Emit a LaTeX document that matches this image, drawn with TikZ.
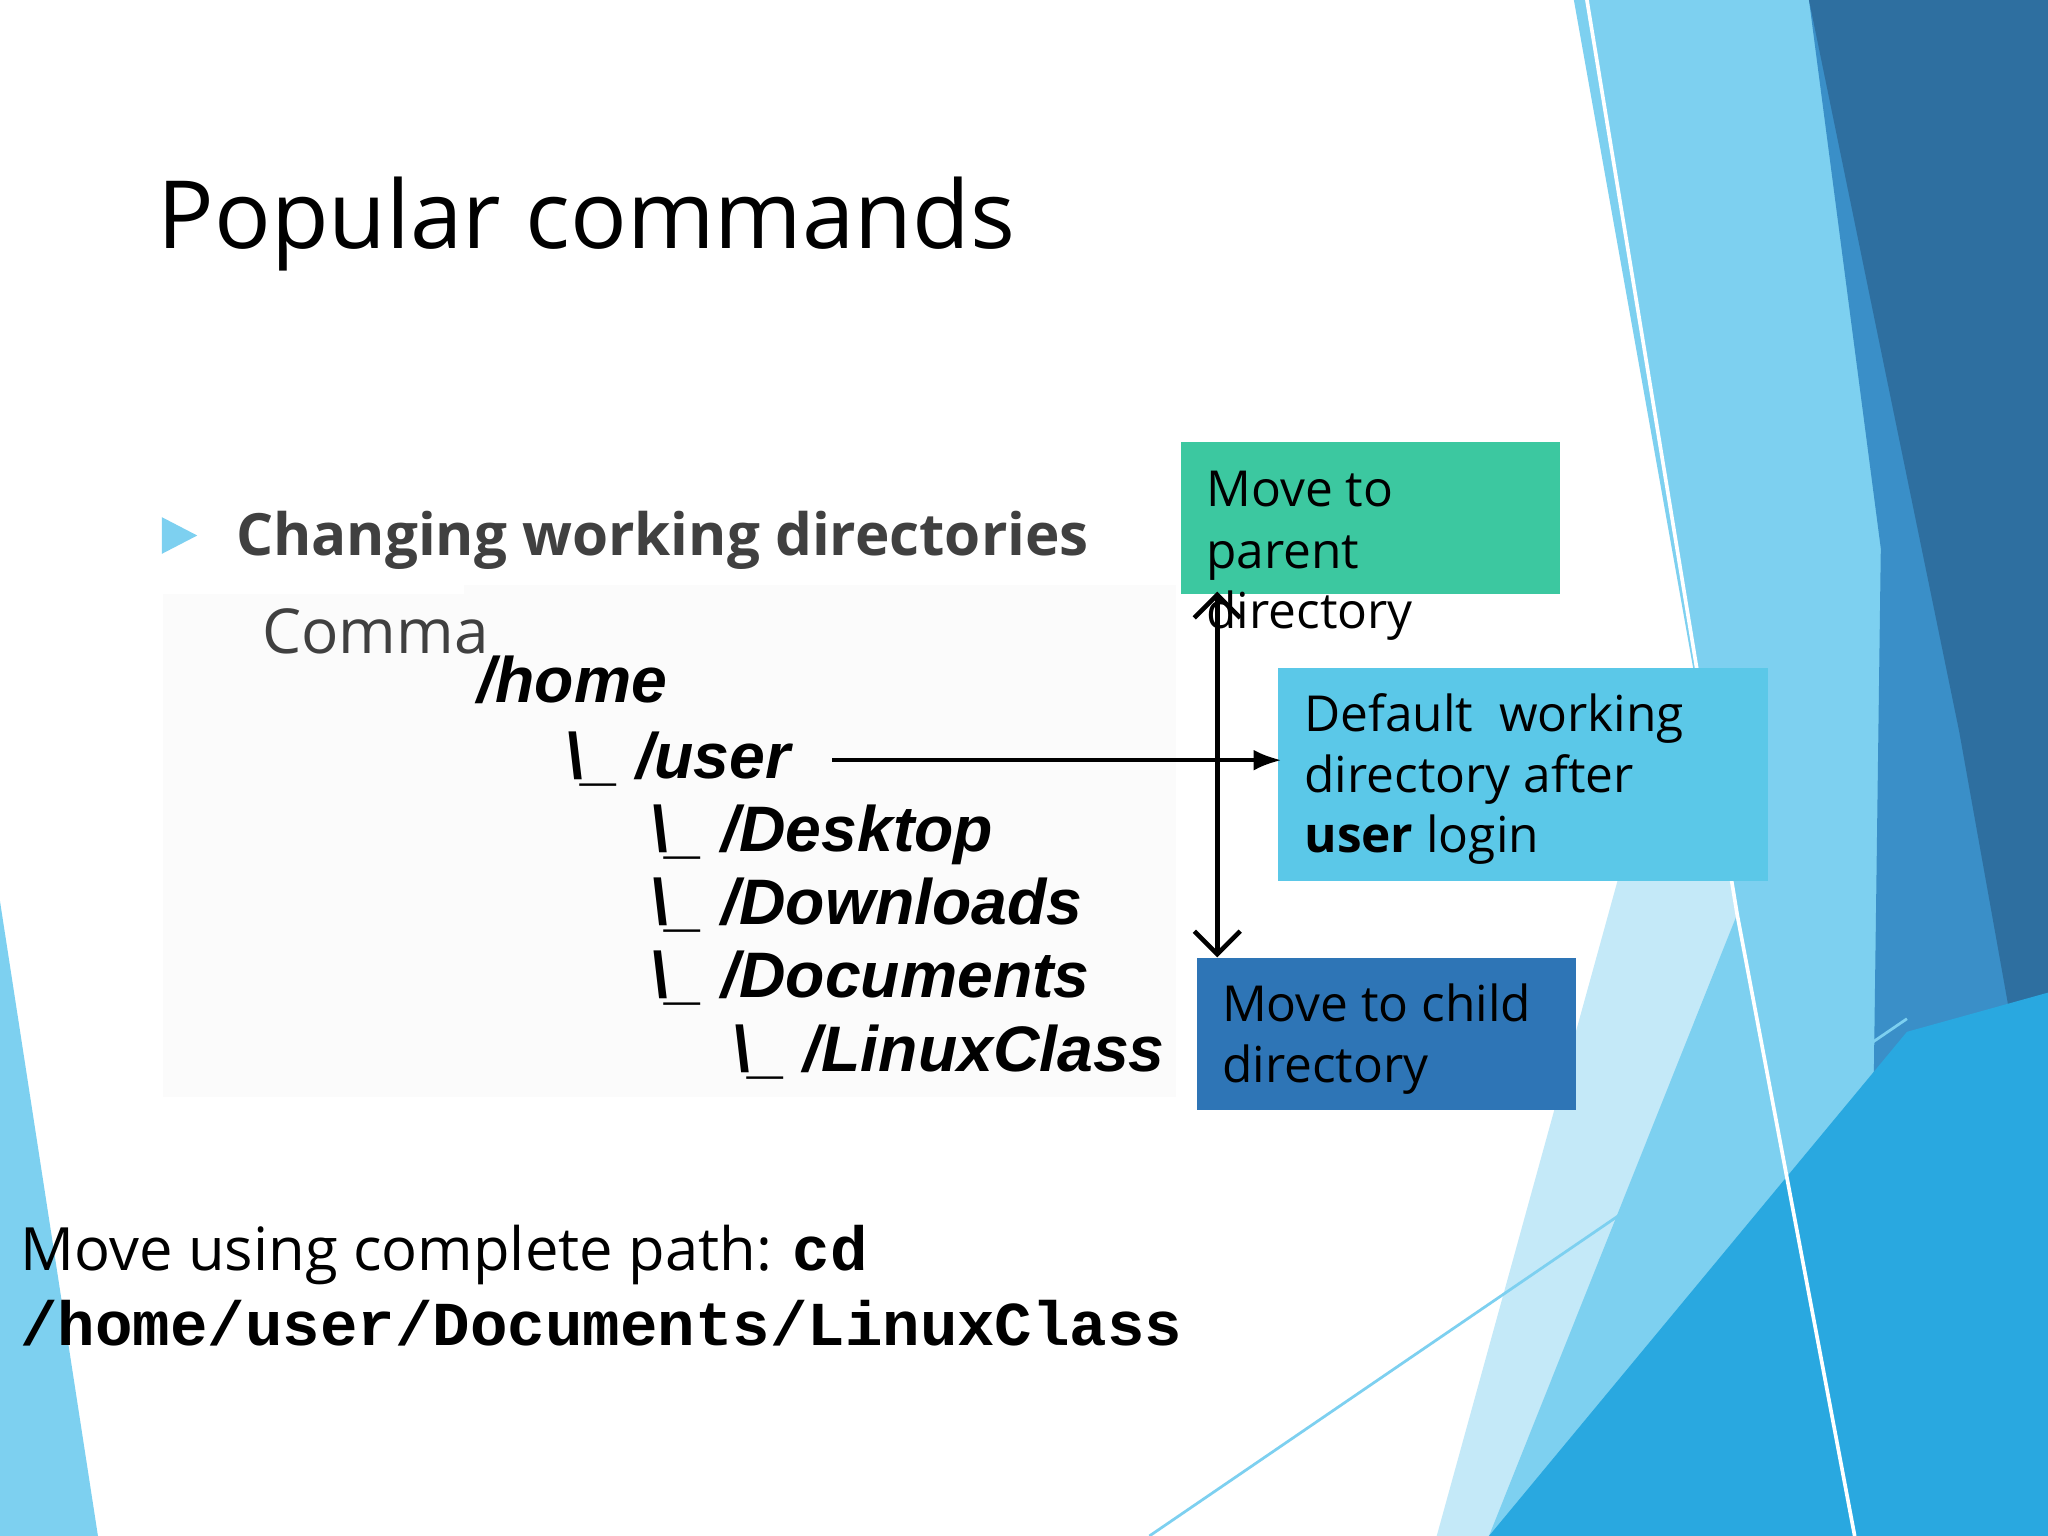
\documentclass[tikz,border=0pt]{standalone}
\usepackage{fontspec}
\usetikzlibrary{arrows.meta}
\setmainfont{Open Sans}
\newfontfamily\treefont{Liberation Sans}
\newfontfamily\monof{Liberation Mono}
\definecolor{lb}{HTML}{7DD0F0}
\definecolor{pb}{HTML}{C4E9F8}
\definecolor{db}{HTML}{2E6FA0}
\definecolor{mb}{HTML}{3A8FC8}
\definecolor{cb}{HTML}{29A8E0}
\definecolor{gt}{HTML}{404040}
\definecolor{tealc}{HTML}{3CC8A0}
\definecolor{skyc}{HTML}{5BC8E8}
\definecolor{bluec}{HTML}{2E75B6}
\tikzset{
 txt/.style={anchor=base west,inner sep=0},
 tree/.style={txt,font=\treefont\fontsize{14}{16}\selectfont\bfseries\itshape},
 boxtxt/.style={txt,font=\fontsize{10.8}{13}\selectfont},
 box/.style={line width=1.5pt,fill=white}
}
\begin{document}
\begin{tikzpicture}[x=0.01cm,y=-0.01cm]
\useasboundingbox (0,0) rectangle (1568,1176);
\fill[white] (0,0) rectangle (1568,1176);
% background decoration
\fill[pb] (1270,560) -- (1340,700) -- (1180,1176) -- (1100,1176) -- cycle;
\fill[lb] (1205,0) -- (1568,0) -- (1568,1176) -- (1330,1176) -- (1330,700) -- cycle;
\fill[lb] (1330,700) -- (1420,1176) -- (1140,1176) -- cycle;
\fill[mb] (1385,0) -- (1568,0) -- (1568,1176) -- (1430,1176) -- (1440,420) -- cycle;
\fill[db] (1385,0) -- (1568,0) -- (1568,940) -- (1500,560) -- cycle;
\fill[cb] (1140,1176) -- (1460,790) -- (1568,760) -- (1568,1176) -- cycle;
\fill[lb] (0,690) -- (75,1176) -- (0,1176) -- cycle;
\draw[lb,line width=0.6pt] (880,1176) -- (1460,780);
\draw[white,line width=0.8pt] (1215,0) -- (1330,700) -- (1420,1176);
% title
\node[txt,font=\fontsize{20.5}{25}\selectfont] (title) at (120,190) {Popular commands};
\fill[lb] (124,396) -- (151,410) -- (124,424) -- cycle;
\node[txt,text=gt,font=\fontsize{12.7}{15}\selectfont\bfseries] (bul) at (180,425) {Changing working directories};
\fill[white!97!gray] (125,448) rectangle (900,840);
\fill[white] (125,448) rectangle (355,455);
\node[txt,text=gt,font=\fontsize{13.5}{16}\selectfont] (cmd) at (200,500) {Comma};
% tree
\node[tree] (home) at (365,538) {/home};
\node[tree] (user) at (432,596) {\textbackslash\_ /user};
\node[tree] (desk) at (497,652) {\textbackslash\_ /Desktop};
\node[tree] (down) at (497,708) {\textbackslash\_ /Downloads};
\node[tree] (docs) at (497,764) {\textbackslash\_ /Documents};
\node[tree] (lin) at (560,820) {\textbackslash\_ /LinuxClass};
% boxes
\draw[box,tealc] (907,341) rectangle (1192,452);
\node[boxtxt] (b1a) at (923,388) {Move to};
\node[boxtxt] (b1b) at (923,435) {parent};
\node[boxtxt] (b1c) at (923,481) {directory};
\draw[box,skyc] (981,514) rectangle (1351,672);
\node[boxtxt] (b2a) at (998,560) {Default\ \ working};
\node[boxtxt] (b2b) at (998,607) {directory after};
\node[boxtxt] (b2c) at (998,653) {\textbf{user} login};
\draw[box,bluec] (919,736) rectangle (1204,847);
\node[boxtxt] (b3a) at (935,782) {Move to child};
\node[boxtxt] (b3b) at (935,829) {directory};
% arrows
\coordinate (as) at (637,582);
\coordinate (ae) at (981,582);
\draw[-{Latex[length=6pt]},line width=0.8pt] (as) -- (ae);
\coordinate (vt) at (932,453);
\coordinate (vb) at (932,733);
\draw[{Straight Barb[length=5pt]}-{Straight Barb[length=5pt]},line width=1pt] (vt) -- (vb);
% bottom
\node[txt,font=\fontsize{13}{16}\selectfont] (bot1) at (15,973) {Move using complete path: {\monof\bfseries\fontsize{13.6}{16}\selectfont cd}};
\node[txt,font=\monof\bfseries\fontsize{13.6}{16}\selectfont] (bot2) at (15,1030) {/home/user/Documents/LinuxClass};
\end{tikzpicture}
\end{document}
